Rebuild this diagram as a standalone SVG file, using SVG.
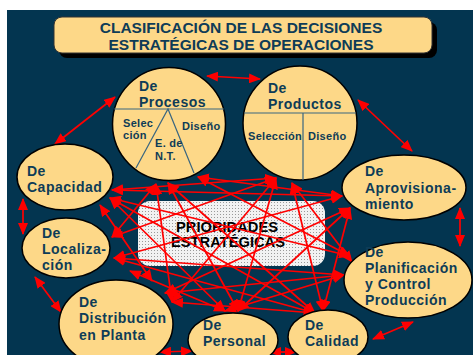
<svg xmlns="http://www.w3.org/2000/svg" width="473" height="355" viewBox="0 0 473 355">
<defs>
<style>
.node{fill:#FDD888;stroke:#000;stroke-width:1.5}
.t{font-family:"Liberation Sans",Arial,sans-serif;font-weight:bold;font-size:14px;letter-spacing:0.5px;fill:#0E3C57}
.s{font-family:"Liberation Sans",Arial,sans-serif;font-weight:bold;font-size:11px;letter-spacing:0.3px;fill:#0E3C57}
.div{stroke:#3A6680;stroke-width:1.2;fill:none}
.c{stroke:#F00;stroke-width:1.7;fill:none;marker-start:url(#ah);marker-end:url(#ah)}
</style>
<marker id="ah" viewBox="0 0 12 10" refX="11" refY="5" markerWidth="12" markerHeight="10" markerUnits="userSpaceOnUse" orient="auto-start-reverse"><path d="M0,0 L12,5 L0,10 z" fill="#F00"/></marker>
<pattern id="dots" width="3" height="3" patternUnits="userSpaceOnUse"><rect width="3" height="3" fill="#F2F2F2"/><rect x="1" y="1" width="1" height="1" fill="#9A9A9A"/></pattern>
</defs>
<rect x="0" y="0" width="473" height="355" fill="#fff"/>
<rect x="7" y="10" width="466" height="345" fill="#033550"/>

<g id="title">
<rect x="59" y="22" width="378" height="36" rx="8" fill="#000"/>
<rect x="54" y="17" width="378" height="36" rx="8" fill="#FDD888" stroke="#333" stroke-width="1"/>
<text x="241" y="33.3" text-anchor="middle" class="t" style="font-size:15.5px;letter-spacing:0">CLASIFICACIÓN DE LAS DECISIONES</text>
<text x="241" y="49.5" text-anchor="middle" class="t" style="font-size:15.5px;letter-spacing:0">ESTRATÉGICAS DE OPERACIONES</text>
</g>

<g id="prioridades">
<rect x="138" y="201" width="187" height="65" rx="12" fill="url(#dots)"/>
<text x="227" y="232" text-anchor="middle" class="t" style="fill:#000;font-size:14.7px;letter-spacing:0">PRIORIDADES</text>
<text x="228" y="247" text-anchor="middle" class="t" style="fill:#000;font-size:14.7px;letter-spacing:0">ESTRATÉGICAS</text>
</g>

<g id="connectors">
<line class="c" x1="207" y1="76" x2="260" y2="79"/>
<line class="c" x1="115" y1="97" x2="55" y2="144"/>
<line class="c" x1="358" y1="100" x2="412" y2="151"/>
<line class="c" x1="23" y1="199" x2="23" y2="234"/>
<line class="c" x1="35" y1="277" x2="61" y2="312"/>
<line class="c" x1="160" y1="352" x2="192" y2="351"/>
<line class="c" x1="270" y1="352" x2="296" y2="352"/>
<line class="c" x1="373" y1="339" x2="413" y2="322"/>
<line class="c" x1="460" y1="208" x2="460" y2="246"/>

<line class="c" x1="198" y1="177" x2="342" y2="196"/>
<line class="c" x1="198" y1="177" x2="350" y2="256"/>
<line class="c" x1="168" y1="183" x2="315" y2="313"/>
<line class="c" x1="168" y1="183" x2="238" y2="311"/>
<line class="c" x1="156" y1="184" x2="172" y2="302"/>
<line class="c" x1="156" y1="184" x2="112" y2="237"/>
<line class="c" x1="292" y1="183" x2="352" y2="262"/>
<line class="c" x1="292" y1="183" x2="323" y2="311"/>
<line class="c" x1="276" y1="178" x2="238" y2="311"/>
<line class="c" x1="276" y1="178" x2="172" y2="302"/>
<line class="c" x1="276" y1="178" x2="112" y2="237"/>
<line class="c" x1="276" y1="178" x2="112" y2="190"/>
<line class="c" x1="350" y1="208" x2="323" y2="311"/>
<line class="c" x1="350" y1="208" x2="238" y2="311"/>
<line class="c" x1="350" y1="208" x2="165" y2="293"/>
<line class="c" x1="342" y1="196" x2="114" y2="258"/>
<line class="c" x1="342" y1="196" x2="112" y2="190"/>
<line class="c" x1="344" y1="275" x2="225" y2="311"/>
<line class="c" x1="344" y1="275" x2="165" y2="293"/>
<line class="c" x1="344" y1="275" x2="114" y2="258"/>
<line class="c" x1="350" y1="256" x2="110" y2="198"/>
<line class="c" x1="315" y1="313" x2="172" y2="302"/>
<line class="c" x1="315" y1="313" x2="114" y2="258"/>
<line class="c" x1="315" y1="313" x2="110" y2="198"/>
<line class="c" x1="225" y1="311" x2="130" y2="271"/>
<line class="c" x1="225" y1="311" x2="110" y2="198"/>
<line class="c" x1="152" y1="281" x2="100" y2="205"/>
</g>

<g id="procesos">
<circle class="node" cx="169" cy="124" r="56.5"/>
<line class="div" x1="114" y1="109" x2="224" y2="109"/>
<polyline class="div" points="136,168 168,109 194,173"/>
<text x="139" y="90.5" class="t">De</text>
<text x="139" y="106.5" class="t">Procesos</text>
<text x="123" y="126.5" class="s">Selec</text>
<text x="123" y="139" class="s">ción</text>
<text x="182" y="130" class="s">Diseño</text>
<text x="155" y="147" class="s">E. de</text>
<text x="155" y="159.5" class="s">N.T.</text>
</g>

<g id="productos">
<circle class="node" cx="300" cy="123" r="57"/>
<line class="div" x1="244" y1="113" x2="356" y2="113"/>
<line class="div" x1="303" y1="113" x2="303" y2="180"/>
<text x="268" y="93" class="t">De</text>
<text x="268" y="109" class="t">Productos</text>
<text x="248" y="140" class="s">Selección</text>
<text x="308" y="140" class="s">Diseño</text>
</g>

<g id="aprovisionamiento">
<ellipse class="node" cx="404" cy="187.5" rx="62" ry="32.5"/>
<text x="365" y="176" class="t">De</text>
<text x="365" y="192.5" class="t">Aprovisiona-</text>
<text x="365" y="209" class="t">miento</text>
</g>

<g id="planificacion">
<ellipse class="node" cx="408" cy="280" rx="64" ry="38"/>
<text x="365" y="257" class="t">De</text>
<text x="365" y="273" class="t">Planificación</text>
<text x="365" y="289" class="t">y Control</text>
<text x="365" y="305" class="t">Producción</text>
</g>

<g id="calidad">
<ellipse class="node" cx="328" cy="337" rx="40" ry="27"/>
<text x="305" y="329.5" class="t">De</text>
<text x="305" y="345.5" class="t">Calidad</text>
</g>

<g id="personal">
<ellipse class="node" cx="233" cy="340" rx="45" ry="27"/>
<text x="203" y="330" class="t">De</text>
<text x="203" y="346" class="t">Personal</text>
</g>

<g id="distribucion">
<ellipse class="node" cx="116" cy="324" rx="57" ry="44"/>
<text x="79" y="306.5" class="t">De</text>
<text x="79" y="323" class="t">Distribución</text>
<text x="79" y="339.5" class="t">en Planta</text>
</g>

<g id="localizacion">
<ellipse class="node" cx="66" cy="248" rx="44" ry="30"/>
<text x="42" y="238" class="t">De</text>
<text x="42" y="254" class="t">Localiza-</text>
<text x="42" y="270" class="t">ción</text>
</g>

<g id="capacidad">
<ellipse class="node" cx="65" cy="177" rx="48" ry="33"/>
<text x="27" y="175.5" class="t">De</text>
<text x="27" y="192" class="t">Capacidad</text>
</g>
</svg>
